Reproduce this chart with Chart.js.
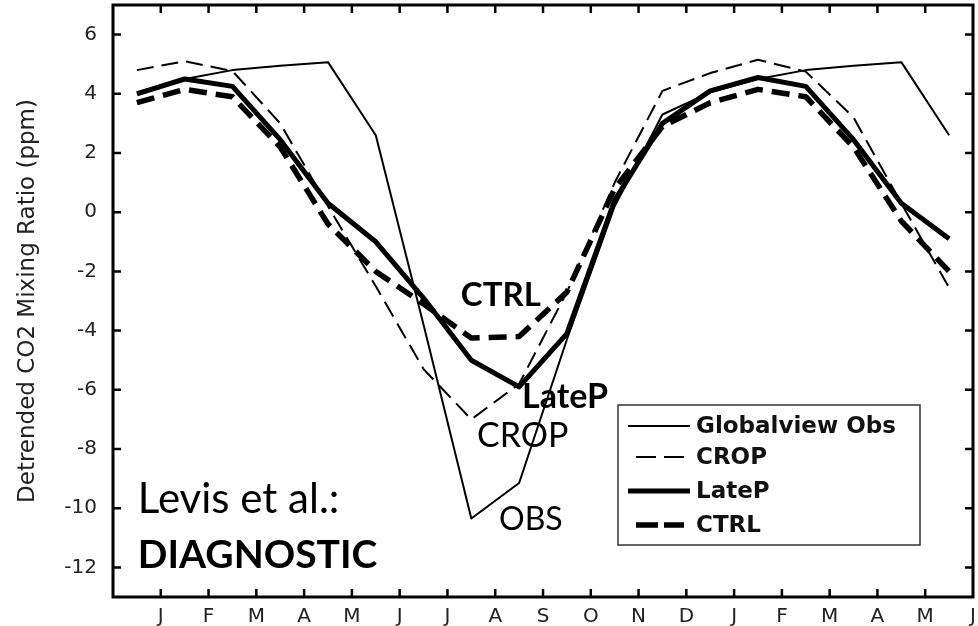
<!DOCTYPE html>
<html>
<head>
<meta charset="utf-8">
<script src="https://cdn.jsdelivr.net/npm/chart.js@4.4.1/dist/chart.umd.min.js"></script>
<style>
  html, body { margin: 0; padding: 0; background: #fff; }
  #wrap { width: 978px; height: 626px; }
</style>
</head>
<body>
<div id="wrap"><canvas id="cv" width="978" height="626"></canvas></div>
<script>
(function () {
    "use strict";

    // ---- data ----
    const monthTicks = ["J", "F", "M", "A", "M", "J", "J", "A", "S", "O", "N", "D", "J", "F", "M", "A", "M", "J"];
    const yTicks = [-12, -10, -8, -6, -4, -2, 0, 2, 4, 6];
    const midMonths = [-0.5, 0.5, 1.5, 2.5, 3.5, 4.5, 5.5, 6.5, 7.5, 8.5, 9.5, 10.5, 11.5, 12.5, 13.5, 14.5, 15.5, 16.5];
    const obsValues = [4.05, 4.5, 4.8, 4.95, 5.07, 2.6, -3.8, -10.35, -9.15, -4.3, 0.2, 3.3, 4.05, 4.5, 4.8, 4.95, 5.07, 2.6];
    const cropValues = [4.8, 5.1, 4.77, 3.0, 0.2, -2.5, -5.3, -7.0, -5.8, -2.7, 1.0, 4.1, 4.7, 5.15, 4.75, 3.2, 0.3, -2.55];
    const latePValues = [4.0, 4.5, 4.25, 2.45, 0.3, -1.0, -2.9, -5.0, -5.9, -4.1, 0.4, 3.0, 4.1, 4.55, 4.25, 2.45, 0.3, -0.9];
    const ctrlValues = [3.7, 4.15, 3.9, 2.2, -0.4, -2.0, -3.1, -4.25, -4.2, -2.7, 0.8, 2.9, 3.7, 4.15, 3.9, 2.2, -0.3, -2.0];

    const FONT_AX = "'DejaVu Sans', 'Liberation Sans', sans-serif";
    const FONT_NOTE = "Lato, 'Open Sans', sans-serif";

    const pairs = (vals) => vals.map((v, i) => ({ x: midMonths[i], y: v }));

    // in-plot text notes, anchored in data units (left, baseline)
    const notes = [
        { text: "Levis et al.:", x: -0.48, y: -10.16, weight: "400", size: 42 },
        { text: "DIAGNOSTIC", x: -0.48, y: -12.02, weight: "700", size: 39 },
        { text: "CTRL", x: 6.28, y: -3.17, weight: "700", size: 33 },
        { text: "LateP", x: 7.56, y: -6.61, weight: "700", size: 34 },
        { text: "CROP", x: 6.62, y: -7.93, weight: "400", size: 34 },
        { text: "OBS", x: 7.08, y: -10.74, weight: "400", size: 32 }
    ];

    const datasets = [
        { label: "Globalview Obs", data: pairs(obsValues), borderWidth: 2, borderDash: [], sample: [628, 690] },
        { label: "CROP", data: pairs(cropValues), borderWidth: 2, borderDash: [17, 8], sample: [636, 684], legendDash: [20, 8] },
        { label: "LateP", data: pairs(latePValues), borderWidth: 5, borderDash: [], sample: [628, 690] },
        { label: "CTRL", data: pairs(ctrlValues), borderWidth: 5.5, borderDash: [18, 9], sample: [636, 684], legendDash: [22, 6] }
    ].map(d => Object.assign(d, {
        borderColor: "#000",
        pointRadius: 0,
        tension: 0,
        fill: false,
        borderCapStyle: "butt",
        borderJoinStyle: "round"
    }));

    /* ---------------- frame, inward ticks, legend, notes ---------------- */
    const plotFrame = {
        id: "plotFrame",
        afterDraw(chart) {
            const { ctx, chartArea: a, scales: { x, y } } = chart;
            ctx.save();
            ctx.strokeStyle = "#000";
            ctx.setLineDash([]);

            // inward ticks
            ctx.lineWidth = 2.5;
            const tl = 8;
            ctx.beginPath();
            for (let v = 0; v < monthTicks.length - 1; v++) {
                const px = x.getPixelForValue(v);
                ctx.moveTo(px, a.bottom); ctx.lineTo(px, a.bottom - tl);
                ctx.moveTo(px, a.top); ctx.lineTo(px, a.top + tl);
            }
            yTicks.forEach(v => {
                const py = y.getPixelForValue(v);
                ctx.moveTo(a.left, py); ctx.lineTo(a.left + tl, py);
                ctx.moveTo(a.right, py); ctx.lineTo(a.right - tl, py);
            });
            ctx.stroke();

            // box
            ctx.lineWidth = 3;
            ctx.strokeRect(a.left, a.top, a.right - a.left, a.bottom - a.top);

            // notes
            ctx.fillStyle = "#000";
            ctx.textAlign = "left";
            ctx.textBaseline = "alphabetic";
            notes.forEach(n => {
                ctx.font = `${n.weight} ${n.size}px ${FONT_NOTE}`;
                ctx.fillText(n.text, x.getPixelForValue(n.x), y.getPixelForValue(n.y));
            });

            // legend
            const box = { l: 618, t: 405, r: 920, b: 545 };
            ctx.fillStyle = "#fff";
            ctx.fillRect(box.l, box.t, box.r - box.l, box.b - box.t);
            ctx.lineWidth = 1.5;
            ctx.strokeStyle = "#333";
            ctx.strokeRect(box.l, box.t, box.r - box.l, box.b - box.t);
            const rows = [426, 457, 491, 525];
            ctx.font = `bold 23px ${FONT_AX}`;
            ctx.textBaseline = "middle";
            datasets.forEach((d, i) => {
                ctx.strokeStyle = "#000";
                ctx.lineWidth = d.borderWidth;
                ctx.setLineDash(d.legendDash || []);
                ctx.beginPath();
                ctx.moveTo(d.sample[0], rows[i]);
                ctx.lineTo(d.sample[1], rows[i]);
                ctx.stroke();
                ctx.fillStyle = "#111";
                ctx.fillText(d.label, 696, rows[i] + 1);
            });
            ctx.restore();
        }
    };

    new Chart(document.getElementById("cv").getContext("2d"), {
        type: "line",
        data: { datasets },
        options: {
            responsive: false,
            devicePixelRatio: 1,
            animation: false,
            layout: { padding: { left: 0, right: 5, top: 5, bottom: 0 } },
            plugins: { legend: { display: false }, tooltip: { enabled: false } },
            scales: {
                x: {
                    type: "linear",
                    min: -1,
                    max: 17,
                    grid: { display: false },
                    border: { display: false },
                    ticks: {
                        stepSize: 1,
                        autoSkip: false,
                        maxRotation: 0,
                        padding: 0,
                        color: "#222",
                        font: { family: FONT_AX, size: 20 },
                        callback: (v) => monthTicks[v] ?? ""
                    },
                    afterFit: (s) => { s.height = 29; s.paddingLeft = 0; s.paddingRight = 0; }
                },
                y: {
                    min: -13,
                    max: 7,
                    grid: { display: false },
                    border: { display: false },
                    afterBuildTicks: (s) => { s.ticks = yTicks.map(v => ({ value: v })); },
                    ticks: {
                        padding: 8,
                        color: "#222",
                        font: { family: FONT_AX, size: 20 }
                    },
                    title: {
                        display: true,
                        text: "Detrended CO2 Mixing Ratio (ppm)",
                        color: "#222",
                        font: { family: FONT_AX, size: 23 },
                        padding: { top: 14, bottom: 0 }
                    },
                    afterFit: (s) => { s.width = 113; s.paddingTop = 0; s.paddingBottom = 0; }
                }
            }
        },
        plugins: [plotFrame]
    });
})();
</script>
</body>
</html>
